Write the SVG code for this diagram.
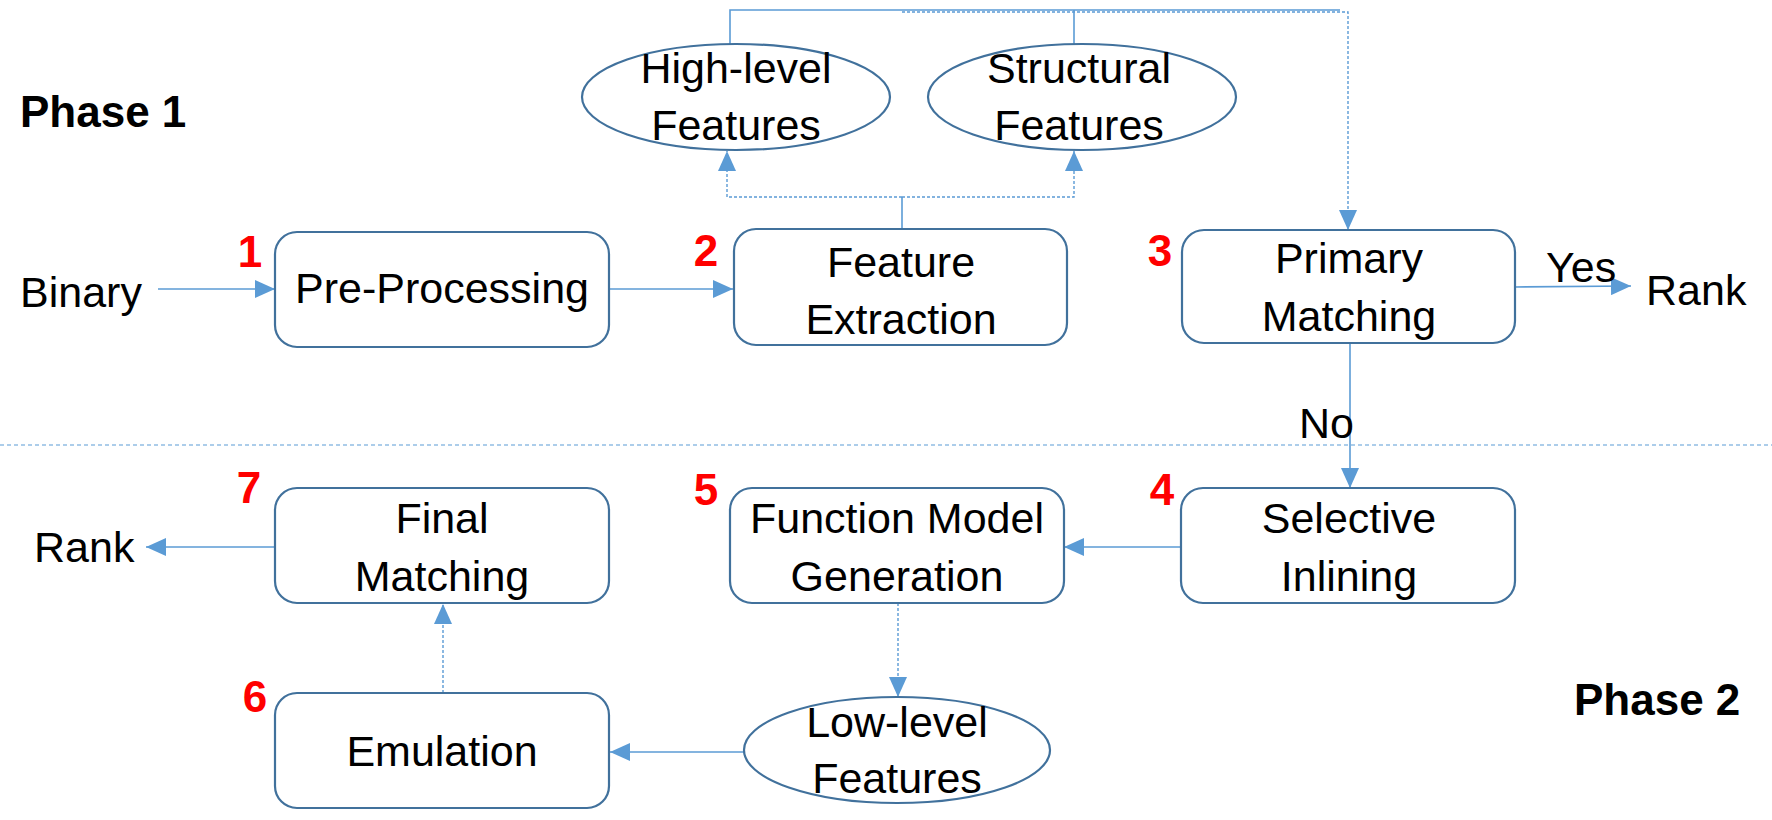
<svg xmlns="http://www.w3.org/2000/svg" width="1772" height="820" viewBox="0 0 1772 820">
<defs>
<style>
.box{fill:#fff;stroke:#41719C;stroke-width:2.2}
.t{font-family:"Liberation Sans",Arial,sans-serif;font-size:43px;fill:#000;text-anchor:middle}
.tl{font-family:"Liberation Sans",Arial,sans-serif;font-size:43px;fill:#000}
.num{font-family:"Liberation Sans",Arial,sans-serif;font-size:44px;font-weight:bold;fill:#FF0000;text-anchor:middle}
.ph{font-family:"Liberation Sans",Arial,sans-serif;font-size:44px;font-weight:bold;fill:#000}
.c{fill:none;stroke:#5B9BD5;stroke-width:1.6}
.d{fill:none;stroke:#5B9BD5;stroke-width:1.4;stroke-dasharray:3 2}
</style>
<marker id="ah" viewBox="0 0 20 18" refX="20" refY="9" markerWidth="20" markerHeight="18" markerUnits="userSpaceOnUse" orient="auto">
<path d="M0,0 L20,9 L0,18 Z" fill="#5B9BD5"/>
</marker>
</defs>
<rect width="1772" height="820" fill="#fff"/>

<g id="phase-separator">
<line x1="0" y1="445" x2="1772" y2="445" stroke="#5B9BD5" stroke-width="1.2" stroke-dasharray="4 3"/>
</g>

<g id="connectors">
<line class="c" x1="158" y1="289" x2="275" y2="289" marker-end="url(#ah)"/>
<line class="c" x1="609" y1="289" x2="733" y2="289" marker-end="url(#ah)"/>
<path class="c" d="M902,229 V197"/>
<path class="d" d="M902,197 H727 V151" marker-end="url(#ah)"/>
<path class="d" d="M902,197 H1074 V151" marker-end="url(#ah)"/>
<path class="c" d="M730,44 V10 H1340"/>
<path class="c" d="M1074,44 V10"/>
<path class="d" d="M902,12 H1348 V230" marker-end="url(#ah)"/>
<line class="c" x1="1515" y1="287" x2="1631" y2="286" marker-end="url(#ah)"/>
<line class="c" x1="1350" y1="342" x2="1350" y2="488" marker-end="url(#ah)"/>
<line class="c" x1="1181" y1="547" x2="1064" y2="547" marker-end="url(#ah)"/>
<line class="d" x1="898" y1="603" x2="898" y2="697" marker-end="url(#ah)"/>
<line class="c" x1="744" y1="752" x2="610" y2="752" marker-end="url(#ah)"/>
<line class="d" x1="443" y1="693" x2="443" y2="604" marker-end="url(#ah)"/>
<line class="c" x1="275" y1="547" x2="146" y2="547" marker-end="url(#ah)"/>
</g>

<g id="labels">
<text class="ph" x="20" y="127">Phase 1</text>
<text class="ph" x="1574" y="715">Phase 2</text>
<text class="tl" x="20" y="307">Binary</text>
<text class="tl" x="1646" y="305">Rank</text>
<text class="tl" x="1546" y="282">Yes</text>
<text class="tl" x="1299" y="438">No</text>
<text class="tl" x="34" y="562">Rank</text>
</g>

<g id="n1">
<rect class="box" x="275" y="232" width="334" height="115" rx="22"/>
<text class="t" x="442" y="303">Pre-Processing</text>
<text class="num" x="250" y="267">1</text>
</g>

<g id="n2">
<rect class="box" x="734" y="229" width="333" height="116" rx="22"/>
<text class="t" x="901" y="277">Feature</text>
<text class="t" x="901" y="334">Extraction</text>
<text class="num" x="706" y="266">2</text>
</g>

<g id="high-level">
<ellipse class="box" cx="736" cy="97" rx="154" ry="53"/>
<text class="t" x="736" y="83">High-level</text>
<text class="t" x="736" y="140">Features</text>
</g>

<g id="structural">
<ellipse class="box" cx="1082" cy="97" rx="154" ry="53"/>
<text class="t" x="1079" y="83">Structural</text>
<text class="t" x="1079" y="140">Features</text>
</g>

<g id="n3">
<rect class="box" x="1182" y="230" width="333" height="113" rx="22"/>
<text class="t" x="1349" y="273">Primary</text>
<text class="t" x="1349" y="331">Matching</text>
<text class="num" x="1160" y="266">3</text>
</g>

<g id="n4">
<rect class="box" x="1181" y="488" width="334" height="115" rx="22"/>
<text class="t" x="1349" y="533">Selective</text>
<text class="t" x="1349" y="591">Inlining</text>
<text class="num" x="1162" y="505">4</text>
</g>

<g id="n5">
<rect class="box" x="730" y="488" width="334" height="115" rx="22"/>
<text class="t" x="897" y="533">Function Model</text>
<text class="t" x="897" y="591">Generation</text>
<text class="num" x="706" y="505">5</text>
</g>

<g id="low-level">
<ellipse class="box" cx="897" cy="750" rx="153" ry="53"/>
<text class="t" x="897" y="737">Low-level</text>
<text class="t" x="897" y="793">Features</text>
</g>

<g id="n6">
<rect class="box" x="275" y="693" width="334" height="115" rx="22"/>
<text class="t" x="442" y="766">Emulation</text>
<text class="num" x="255" y="712">6</text>
</g>

<g id="n7">
<rect class="box" x="275" y="488" width="334" height="115" rx="22"/>
<text class="t" x="442" y="533">Final</text>
<text class="t" x="442" y="591">Matching</text>
<text class="num" x="249" y="503">7</text>
</g>
</svg>
